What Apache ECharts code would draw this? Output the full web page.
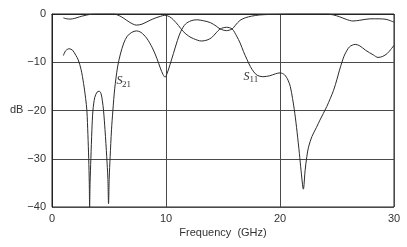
<!DOCTYPE html>
<html>
<head>
<meta charset="utf-8">
<script src="https://cdn.jsdelivr.net/npm/echarts@6/dist/echarts.min.js"></script>
<style>html,body{margin:0;padding:0;background:#fff}#c{width:407px;height:247px}</style>
</head>
<body>
<div id="c"></div>
<script>
// Frequency (GHz) / dB samples
const s21Freq = [1.0,1.2,1.5,1.8,2.1,2.3,2.55,2.77,2.95,3.06,3.15,3.22,3.27,3.3,3.34,3.41,3.5,3.59,3.75,3.95,4.14,4.3,4.42,4.52,4.65,4.8,4.9,4.96,5.02,5.1,5.22,5.34,5.5,5.75,6.0,6.3,6.6,7.0,7.4,7.8,8.3,8.8,9.2,9.5,9.75,9.92,10.1,10.35,10.65,11.0,11.3,11.7,12.2,12.7,13.3,13.9,14.4,14.75,15.3,15.8,16.1,16.5,17.0,17.5,18.2,19.0,20.0,21.0,22.0,23.0,24.1,24.7,25.2,25.8,26.4,27.0,27.9,28.7,29.3,29.7,30.0];
const s21Db   = [-8.6,-7.6,-7.2,-7.5,-8.6,-9.5,-11.5,-14.4,-17.5,-20,-25,-30,-35,-40,-35,-30,-24,-20,-17.3,-16.2,-16.0,-16.5,-18,-20,-24,-29.6,-34,-39.3,-34,-29.6,-24,-20,-15.5,-11,-8.3,-6.0,-4.6,-3.8,-3.5,-3.8,-5.0,-7.0,-9.2,-11.2,-12.6,-13.1,-12.3,-10.5,-8.2,-5.5,-3.6,-2.1,-1.4,-1.2,-1.4,-1.8,-2.5,-3.1,-3.45,-3.1,-2.3,-1.3,-0.75,-0.45,-0.2,-0.1,-0.05,0,0,0,0,-0.2,-0.55,-1.1,-1.45,-1.3,-1.0,-1.0,-1.1,-1.4,-1.7];

const s11Freq = [1.0,1.3,1.6,2.0,2.4,2.8,3.3,3.9,4.5,5.4,5.9,6.3,6.8,7.4,7.9,8.6,9.1,9.5,9.9,10.3,10.65,11.1,11.5,12.0,12.4,13.1,13.6,14.0,14.4,14.75,15.3,15.8,16.2,16.5,16.8,17.1,17.4,17.7,18.0,18.5,19.1,19.6,20.0,20.4,20.7,20.9,21.1,21.3,21.5,21.7,21.85,22.05,22.2,22.35,22.5,22.8,23.2,23.5,24.1,24.7,25.0,25.2,25.5,25.7,26.1,26.6,27.0,27.5,28.2,28.6,29.0,29.4,29.7,30.0];
const s11Db   = [-0.8,-1.0,-1.05,-0.9,-0.6,-0.35,-0.1,0,0,0,-0.35,-0.9,-1.7,-2.3,-2.1,-1.3,-0.8,-0.5,-0.25,-0.55,-1.2,-2.4,-3.6,-4.6,-5.1,-5.6,-5.4,-4.9,-3.9,-3.1,-2.75,-3.1,-4.6,-6.0,-7.8,-9.4,-10.9,-12.0,-12.7,-13.0,-12.8,-12.4,-12.2,-12.6,-13.7,-15,-17.5,-20.6,-24.5,-28.9,-32.5,-36.3,-32.5,-29.6,-27.6,-25.4,-23.5,-22,-19.2,-15.8,-13.5,-11.8,-9.5,-8.3,-6.8,-6.3,-6.6,-7.5,-8.5,-9.0,-8.8,-8.2,-7.4,-6.5];

const xTicks = [0, 10, 20, 30];
const yTicks = [0, -10, -20, -30, -40];

const chart = echarts.init(document.getElementById('c'), null, {renderer: 'canvas'});
const pair = (xs, ys) => xs.map((x, i) => [x, ys[i]]);
const lineCol = '#2b2b2b';
const gridCol = '#4a4a4a';
const font = '"Liberation Sans", Arial, Helvetica, sans-serif';

chart.setOption({
  animation: false,
  grid: {left: 52, right: 13, top: 14, bottom: 40, show: true, borderColor: '#222', borderWidth: 1, containLabel: false},
  xAxis: {
    type: 'value', min: xTicks[0], max: xTicks[xTicks.length - 1], interval: 10,
    axisLine: {show: true, lineStyle: {color: '#222', width: 1}},
    axisTick: {show: false},
    axisLabel: {color: '#333', fontSize: 11, fontFamily: font, margin: 6},
    splitLine: {show: true, lineStyle: {color: gridCol, width: 1}}
  },
  yAxis: {
    type: 'value', min: yTicks[yTicks.length - 1], max: yTicks[0], interval: 10,
    axisLine: {show: true, lineStyle: {color: '#222', width: 1}},
    axisTick: {show: false},
    axisLabel: {color: '#333', fontSize: 11, fontFamily: font, margin: 6,
      formatter: v => (v < 0 ? '\u2212' + Math.abs(v) : String(v))},
    splitLine: {show: true, lineStyle: {color: gridCol, width: 1}}
  },
  series: [
    {type: 'line', name: 'S21', data: pair(s21Freq, s21Db), smooth: 0.3, showSymbol: false,
     lineStyle: {color: lineCol, width: 1}, clip: true},
    {type: 'line', name: 'S11', data: pair(s11Freq, s11Db), smooth: 0.3, showSymbol: false,
     lineStyle: {color: lineCol, width: 1}, clip: true}
  ],
  graphic: [
    {type: 'text', left: 10, top: 104, style: {text: 'dB', fontSize: 11, fontFamily: font, fill: '#333'}},
    {type: 'text', x: 223, y: 233, style: {text: 'Frequency  (GHz)', fontSize: 11, fontFamily: font, fill: '#333', align: 'center', verticalAlign: 'middle'}},
    {type: 'text', x: 116.5, y: 81, style: {text: 'S', fontSize: 12, fontStyle: 'italic', fontFamily: '"Liberation Serif", "DejaVu Serif", serif', fill: '#333', verticalAlign: 'middle'}},
    {type: 'text', x: 122, y: 85, style: {text: '21', fontSize: 9, fontFamily: '"Liberation Serif", "DejaVu Serif", serif', fill: '#333', verticalAlign: 'middle'}},
    {type: 'text', x: 243.5, y: 76.5, style: {text: 'S', fontSize: 12, fontStyle: 'italic', fontFamily: '"Liberation Serif", "DejaVu Serif", serif', fill: '#333', verticalAlign: 'middle'}},
    {type: 'text', x: 249.5, y: 80, style: {text: '11', fontSize: 9, fontFamily: '"Liberation Serif", "DejaVu Serif", serif', fill: '#333', verticalAlign: 'middle'}}
  ]
});
</script>
</body>
</html>
